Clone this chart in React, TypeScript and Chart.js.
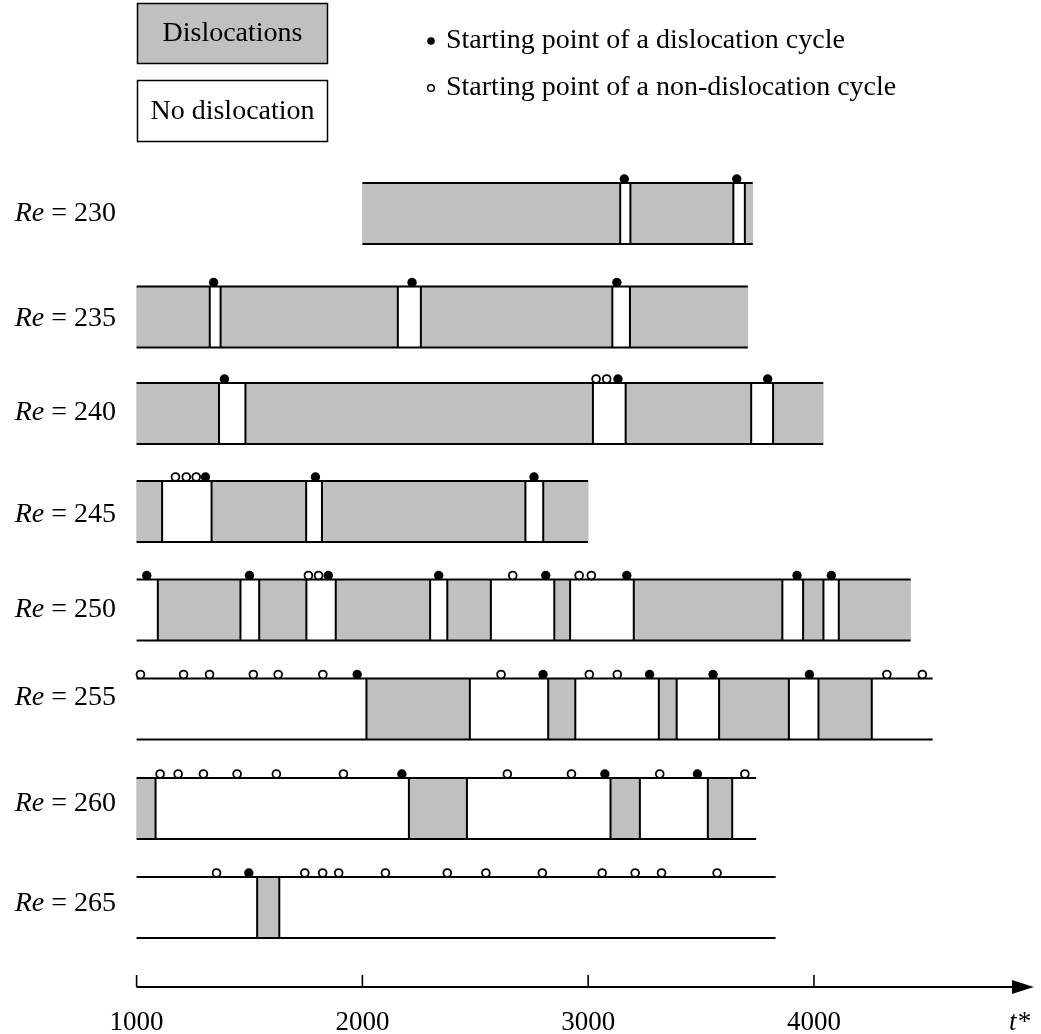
import { useEffect, useRef } from 'react';
import { Chart, registerables } from 'chart.js';

Chart.register(...registerables);

// ---------------- DATA ----------------
const reValues = ['230', '235', '240', '245', '250', '255', '260', '265'];

// segment boundaries (t*) for each row: first value = row start, last = row end
const re230Bounds = [2000, 3142, 3187, 3643, 3694, 3729];
const re235Bounds = [1000, 1324, 1372, 2157, 2259, 3107, 3185, 3707];
const re240Bounds = [1000, 1365, 1482, 3021, 3166, 3722, 3819, 4041];
const re245Bounds = [1000, 1113, 1332, 1751, 1821, 2722, 2801, 3000];
const re250Bounds = [1000, 1094, 1460, 1543, 1752, 1882, 2300, 2376, 2569, 2850, 2920, 3202, 3860, 3952, 4042, 4110, 4428];
const re255Bounds = [1000, 2018, 2476, 2823, 2943, 3313, 3392, 3580, 3889, 4020, 4256, 4526];
const re260Bounds = [1000, 1084, 2206, 2463, 3099, 3229, 3530, 3638, 3744];
const re265Bounds = [1000, 1534, 1632, 3830];

// state of the first segment of each row: D = dislocations, N = no dislocation
const firstState = ['D', 'D', 'D', 'D', 'N', 'N', 'D', 'N'];

// starting points of dislocation cycles (filled dots)
const re230Filled = [3160, 3658];
const re235Filled = [1341, 2220, 3127];
const re240Filled = [1389, 3132, 3795];
const re245Filled = [1305, 1792, 2760];
const re250Filled = [1045, 1500, 1849, 2338, 2812, 3171, 3925, 4077];
const re255Filled = [1977, 2800, 3272, 3553, 3980];
const re260Filled = [2175, 3074, 3484];
const re265Filled = [1497];

// starting points of non-dislocation cycles (open dots)
const re230Open: number[] = [];
const re235Open: number[] = [];
const re240Open = [3035, 3082];
const re245Open = [1172, 1220, 1264];
const re250Open = [1761, 1806, 2666, 2960, 3014];
const re255Open = [1017, 1208, 1323, 1517, 1627, 1825, 2614, 3005, 3129, 4323, 4480];
const re260Open = [1104, 1184, 1296, 1445, 1619, 1916, 2642, 2926, 3317, 3694];
const re265Open = [1354, 1745, 1824, 1895, 2102, 2376, 2547, 2797, 3062, 3208, 3325, 3571];

const xTickValues = [1000, 2000, 3000, 4000];
const axisStartValue = 1000;
const axisTipValue = 4974;

const rowBounds = [re230Bounds, re235Bounds, re240Bounds, re245Bounds, re250Bounds, re255Bounds, re260Bounds, re265Bounds];
const rowFilled = [re230Filled, re235Filled, re240Filled, re245Filled, re250Filled, re255Filled, re260Filled, re265Filled];
const rowOpen = [re230Open, re235Open, re240Open, re245Open, re250Open, re255Open, re260Open, re265Open];

// ---------------- LAYOUT (vertical units = canvas pixels) ----------------
const W = 1041;
const H = 1034;
const PLOT_LEFT = 136.6;
const PLOT_RIGHT = 1036;
const PX_PER_UNIT_X = 0.2273;
const ROW_CENTERS = [213.5, 317, 413.5, 511.5, 610, 709, 808.5, 907.5];
const LABEL_Y = [214, 319, 413, 515, 610, 698, 804, 904];
const PLOT_BOTTOM = 984;
const BAND = 61;
const HALF = BAND / 2;
const AXIS_Y = 987;
const TICK_LEN = 12;
const DOT_LIFT = 4;

const xMax = 1000 + (PLOT_RIGHT - PLOT_LEFT) / PX_PER_UNIT_X;

const FONT = '"Liberation Serif", "Times New Roman", serif';
const GRAY = '#c0c0c0';

function makeArrowHead() {
  const c = document.createElement('canvas');
  c.width = 44;
  c.height = 16;
  const g = c.getContext('2d')!;
  g.fillStyle = '#000';
  g.beginPath();
  g.moveTo(22, 8);
  g.lineTo(0, 1);
  g.lineTo(0, 15);
  g.closePath();
  g.fill();
  return c;
}

const annotationPlugin = {
  id: 'annotations',
  afterDraw(chart: any) {
    const ctx = chart.ctx as CanvasRenderingContext2D;
    const ys = chart.scales.y;
    ctx.save();
    ctx.fillStyle = '#000';
    ctx.textBaseline = 'middle';
    reValues.forEach((re, i) => {
      const y = ys.getPixelForValue(LABEL_Y[i]);
      const rightX = 116;
      ctx.font = `28px ${FONT}`;
      ctx.textAlign = 'right';
      const rest = ' = ' + re;
      ctx.fillText(rest, rightX, y);
      const wRest = ctx.measureText(rest).width;
      ctx.font = `italic 28px ${FONT}`;
      ctx.fillText('Re', rightX - wRest, y);
    });
    ctx.lineWidth = 1.5;
    ctx.strokeStyle = '#000';
    ctx.fillStyle = GRAY;
    ctx.fillRect(137.5, 3.5, 190, 60);
    ctx.strokeRect(137.5, 3.5, 190, 60);
    ctx.fillStyle = '#fff';
    ctx.fillRect(137.5, 80.5, 190, 61);
    ctx.strokeRect(137.5, 80.5, 190, 61);
    ctx.fillStyle = '#000';
    ctx.font = `28px ${FONT}`;
    ctx.textAlign = 'center';
    ctx.fillText('Dislocations', 232.5, 34);
    ctx.fillText('No dislocation', 232.5, 112);
    ctx.beginPath();
    ctx.arc(431, 41, 3.8, 0, Math.PI * 2);
    ctx.fill();
    ctx.beginPath();
    ctx.arc(431, 88, 3.3, 0, Math.PI * 2);
    ctx.fillStyle = '#fff';
    ctx.fill();
    ctx.lineWidth = 1.5;
    ctx.stroke();
    ctx.fillStyle = '#000';
    ctx.textAlign = 'left';
    ctx.font = `28px ${FONT}`;
    ctx.fillText('Starting point of a dislocation cycle', 446, 41);
    ctx.fillText('Starting point of a non-dislocation cycle', 446, 88);
    ctx.restore();
  },
};

export default function App() {
  const ref = useRef<HTMLCanvasElement>(null);

  useEffect(() => {
    document.body.style.margin = '0';
    const grayBars: any[] = [];
    const hLines: any[] = [];
    const vLines: any[] = [];
    const filledDots: any[] = [];
    const openDots: any[] = [];

    rowBounds.forEach((b, i) => {
      const c = ROW_CENTERS[i];
      let state = firstState[i];
      for (let k = 0; k < b.length - 1; k++) {
        if (state === 'D') grayBars.push({ x: [b[k], b[k + 1]], y: c });
        state = state === 'D' ? 'N' : 'D';
      }
      const s = b[0];
      const e = b[b.length - 1];
      hLines.push({ x: s, y: c - HALF }, { x: e, y: c - HALF }, { x: e, y: null });
      hLines.push({ x: s, y: c + HALF }, { x: e, y: c + HALF }, { x: e, y: null });
      b.slice(1, -1).forEach((t) => {
        vLines.push({ x: t, y: c - HALF }, { x: t, y: c + HALF }, { x: t, y: null });
      });
      rowFilled[i].forEach((t) => filledDots.push({ x: t, y: c - HALF - DOT_LIFT }));
      rowOpen[i].forEach((t) => openDots.push({ x: t, y: c - HALF - DOT_LIFT }));
    });

    const tickMarks: any[] = [];
    xTickValues.forEach((t) => {
      tickMarks.push({ x: t, y: AXIS_Y }, { x: t, y: AXIS_Y - TICK_LEN }, { x: t, y: null });
    });

    const lineCommon = {
      type: 'line',
      borderColor: '#000',
      pointRadius: 0,
      spanGaps: false,
      tension: 0,
      fill: false,
      clip: false,
    };

    const chart = new Chart(ref.current!, {
      type: 'scatter',
      data: {
        datasets: [
          { ...lineCommon, data: hLines, borderWidth: 2.2, order: 3 } as any,
          { ...lineCommon, data: vLines, borderWidth: 2, order: 3 } as any,
          { ...lineCommon, data: [{ x: axisStartValue, y: AXIS_Y }, { x: axisTipValue - 20, y: AXIS_Y }], borderWidth: 2, order: 3 } as any,
          { ...lineCommon, data: tickMarks, borderWidth: 1.6, order: 3 } as any,
          {
            type: 'scatter',
            data: [{ x: axisTipValue, y: AXIS_Y }],
            pointStyle: makeArrowHead(),
            pointRadius: 10,
            clip: false,
            order: 1,
          } as any,
          {
            type: 'bar',
            indexAxis: 'y',
            data: grayBars,
            backgroundColor: GRAY,
            borderWidth: 0,
            barThickness: BAND,
            grouped: false,
            clip: false,
            order: 10,
          } as any,
          {
            type: 'scatter',
            data: filledDots,
            pointRadius: 4.7,
            pointBackgroundColor: '#000',
            pointBorderColor: '#000',
            pointBorderWidth: 0,
            clip: false,
            order: 0,
          } as any,
          {
            type: 'scatter',
            data: openDots,
            pointRadius: 3.9,
            pointBackgroundColor: '#fff',
            pointBorderColor: '#000',
            pointBorderWidth: 1.8,
            clip: false,
            order: 0,
          } as any,
        ],
      },
      options: {
        animation: false,
        responsive: true,
        maintainAspectRatio: false,
        events: [],
        layout: { padding: { left: PLOT_LEFT, right: W - PLOT_RIGHT, top: 0, bottom: 0 } },
        plugins: { legend: { display: false }, tooltip: { enabled: false } },
        scales: {
          x: {
            type: 'linear',
            min: 1000,
            max: xMax,
            offset: false,
            grid: { display: false, drawTicks: false },
            border: { display: false },
            afterBuildTicks: (scale: any) => {
              scale.ticks = xTickValues.map((v) => ({ value: v }));
            },
            afterFit: (scale: any) => {
              scale.height = H - PLOT_BOTTOM;
            },
            ticks: {
              color: '#000',
              font: { family: FONT, size: 27 },
              padding: 23,
              maxRotation: 0,
              autoSkip: false,
              callback: (v: any) => String(v),
            },
            title: {
              display: true,
              text: 't*',
              align: 'end',
              color: '#000',
              font: { family: FONT, size: 27, style: 'italic', lineHeight: 0.8 },
              padding: { top: 0, bottom: 0 },
            },
          },
          y: {
            type: 'linear',
            display: false,
            reverse: true,
            offset: false,
            min: 0,
            max: PLOT_BOTTOM,
            grid: { offset: false },
          },
        },
      } as any,
      plugins: [annotationPlugin],
    });
    const ca = chart.chartArea;
    (chart.options.scales as any).y.min = ca.top;
    (chart.options.scales as any).y.max = ca.bottom;
    chart.update();
    return () => chart.destroy();
  }, []);

  return (
    <div style={{ position: 'absolute', left: 0, top: 0, width: W, height: H }}>
      <canvas ref={ref} />
    </div>
  );
}
